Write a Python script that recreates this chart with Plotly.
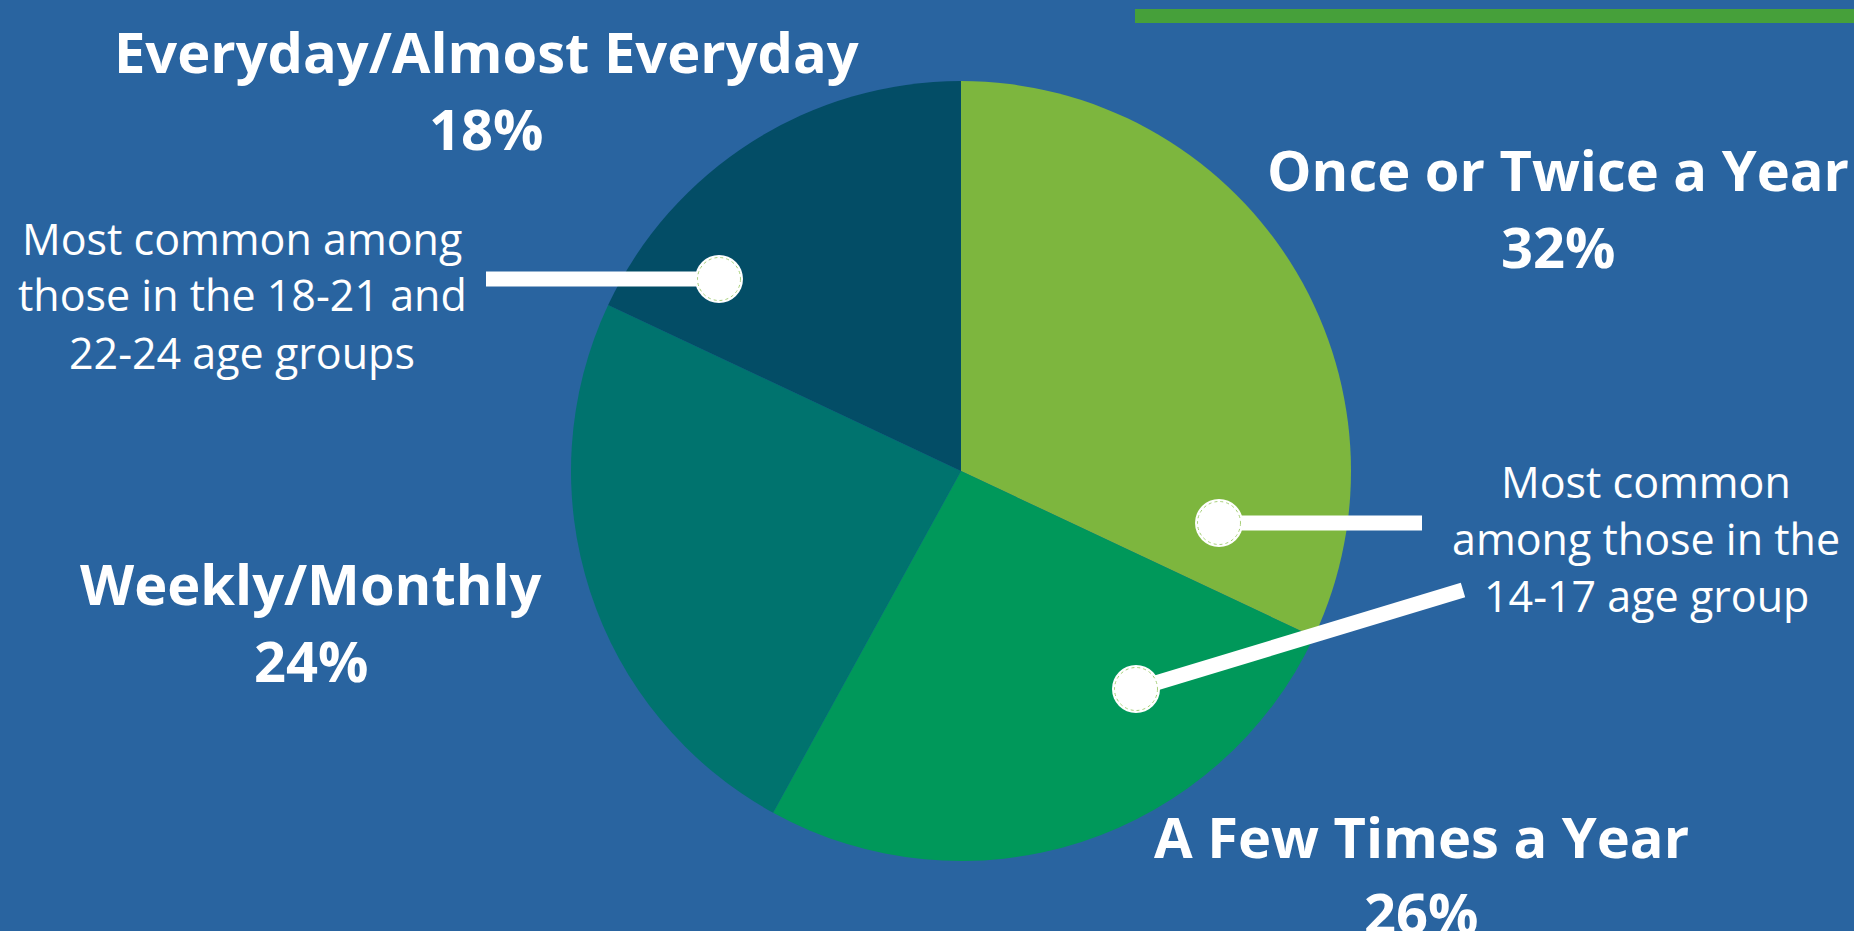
import plotly.graph_objects as go

W, H = 1854, 931

categories = ["Once or Twice a Year", "A Few Times a Year", "Weekly/Monthly", "Everyday/Almost Everyday"]
values = [32, 26, 24, 18]
colors = ["#7DB63E", "#00985A", "#00736E", "#034D66"]

note_left = ["Most common among", "those in the 18-21 and", "22-24 age groups"]
note_right = ["Most common", "among those in the", "14-17 age group"]

BG = "#2964A0"
BAR = "#46A03A"

def px(x):
    return x / W

def py(y):
    return 1 - y / H

cx, cy, r = 961, 471, 390

fig = go.Figure(go.Pie(
    labels=categories, values=values, sort=False, direction="clockwise", rotation=0,
    marker=dict(colors=colors, line=dict(width=0)), textinfo="none", hoverinfo="skip",
    showlegend=False,
    domain=dict(x=[px(cx - r), px(cx + r)], y=[py(cy + r), py(cy - r)]),
))

annotations = []
label_pos = {
    "Everyday/Almost Everyday": (486, 51, 128),
    "Once or Twice a Year": (1558, 169, 246),
    "Weekly/Monthly": (311, 583, 660),
    "A Few Times a Year": (1421, 836, 912),
}
for cat, v in zip(categories, values):
    x, y1, y2 = label_pos[cat]
    annotations.append(dict(x=px(x), y=py(y1), text=f"<b>{cat}</b>", showarrow=False,
                            xref="paper", yref="paper", xanchor="center", yanchor="middle",
                            font=dict(family="Open Sans", size=56, color="white")))
    annotations.append(dict(x=px(x), y=py(y2), text=f"<b>{v}%</b>", showarrow=False,
                            xref="paper", yref="paper", xanchor="center", yanchor="middle",
                            font=dict(family="Open Sans", size=56, color="white")))

for i, line in enumerate(note_left):
    annotations.append(dict(x=px(242), y=py(238 + 57 * i), text=line, showarrow=False,
                            xref="paper", yref="paper", xanchor="center", yanchor="middle",
                            font=dict(family="Open Sans", size=43, color="white")))
for i, line in enumerate(note_right):
    annotations.append(dict(x=px(1646), y=py(481 + 57 * i), text=line, showarrow=False,
                            xref="paper", yref="paper", xanchor="center", yanchor="middle",
                            font=dict(family="Open Sans", size=43, color="white")))

shapes = []
# title underline bar
shapes.append(dict(type="rect", xref="paper", yref="paper", x0=px(1135), x1=px(1854),
                   y0=py(23), y1=py(9), fillcolor=BAR, line=dict(width=0)))

def connector(x0, y0, x1, y1):
    shapes.append(dict(type="line", xref="paper", yref="paper", x0=px(x0), y0=py(y0),
                       x1=px(x1), y1=py(y1), line=dict(color="white", width=15)))

def dot(x, y, rr=24):
    shapes.append(dict(type="circle", xref="paper", yref="paper", x0=px(x - rr), x1=px(x + rr),
                       y0=py(y + rr), y1=py(y - rr), fillcolor="white", line=dict(width=0)))
    ri = rr - 2.5
    shapes.append(dict(type="circle", xref="paper", yref="paper", x0=px(x - ri), x1=px(x + ri),
                       y0=py(y + ri), y1=py(y - ri), fillcolor="rgba(0,0,0,0)",
                       line=dict(color="#A8D07A", width=1, dash="dot")))

connector(486, 279, 719, 279)
connector(1219, 523, 1422, 523)
connector(1136, 689, 1463, 590)
dot(719, 279)
dot(1219, 523)
dot(1136, 689)

fig.update_layout(width=W, height=H, margin=dict(l=0, r=0, t=0, b=0),
                  paper_bgcolor=BG, plot_bgcolor=BG, annotations=annotations, shapes=shapes)

fig.write_html("out.html", config=dict(displayModeBar=False), post_script=(
    "document.body.style.margin='0';document.body.style.overflow='hidden';"
    "document.body.style.background='" + BG + "';"))
